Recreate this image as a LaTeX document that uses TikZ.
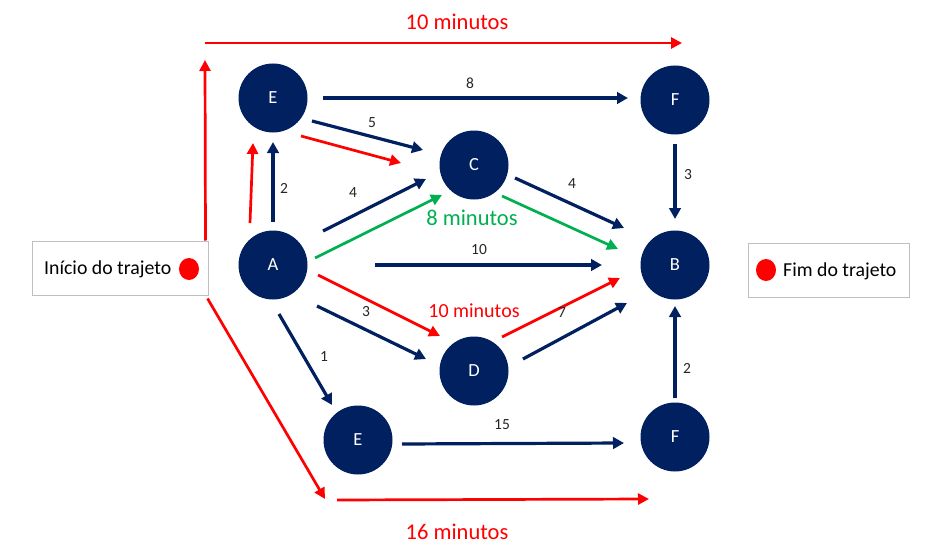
\documentclass[tikz,border=0pt]{standalone}
\usepackage{fontspec}
\setmainfont{Carlito}
\usetikzlibrary{arrows.meta,calc}
\definecolor{navy}{HTML}{002060}
\definecolor{rd}{HTML}{FF0000}
\definecolor{gr}{HTML}{00B050}
\definecolor{boxgray}{HTML}{BFBFBF}
\begin{document}
\begin{tikzpicture}[x=1pt,y=-1pt,
  vert/.style={circle,fill=navy,minimum size=69pt,inner sep=0pt,text=white,font=\fontsize{18.5}{22}\selectfont},
  navyarr/.style={draw=navy,line width=3.2pt,-{Triangle[length=11pt,width=11.5pt]}},
  redarr/.style={draw=rd,line width=2.7pt,-{Triangle[length=11pt,width=11pt]}},
  greenarr/.style={draw=gr,line width=2.7pt,-{Triangle[length=11pt,width=11pt]}},
  lbl/.style={font=\fontsize{15.5}{18}\selectfont,text=black!85,inner sep=0pt},
  biglbl/.style={font=\fontsize{22.5}{26}\selectfont,inner sep=0pt},
  midlbl/.style={font=\fontsize{20}{24}\selectfont,inner sep=0pt},
  infobox/.style={draw=boxgray,line width=1pt,fill=white,inner sep=0pt},
  boxtext/.style={font=\fontsize{19.8}{24}\selectfont,inner sep=0pt,anchor=west}
]
\fill[white] (0,0) rectangle (927,551);
\useasboundingbox (0,0) rectangle (927,551);

% vertices
\node[vert] (Et) at (273,98) {E};
\node[vert] (Ft) at (675,100) {F};
\node[vert] (C)  at (474,165) {C};
\node[vert] (A)  at (273,265) {A};
\node[vert] (B)  at (675,265) {B};
\node[vert] (D)  at (474,371) {D};
\node[vert] (Eb) at (358,440) {E};
\node[vert] (Fb) at (675,437) {F};

% boxes
\node[infobox,minimum width=176pt,minimum height=54pt] (ini) at (120,268) {};
\node[boxtext] (initxt) at (44,269) {Início do trajeto};
\fill[rd] (189,269) ellipse [x radius=10pt, y radius=11pt];
\node[infobox,minimum width=161pt,minimum height=54pt] (fim) at (828.5,270) {};
\fill[rd] (766,270) ellipse [x radius=10pt, y radius=11pt];
\node[boxtext] (fimtxt) at (783,271) {Fim do trajeto};

% navy arrows
\draw[navyarr] ($(Et)+(50,0)$) -- ($(Ft)+(-47,-2)$);
\draw[navyarr] ($(Et)+(39,23)$) -- ($(C)+(-51,-15)$);
\draw[navyarr] ($(A)+(0,-43)$) -- ($(Et)+(0,44)$);
\draw[navyarr] ($(A)+(50,-34)$) -- ($(C)+(-48,14)$);
\draw[navyarr] ($(C)+(41,13)$) -- ($(B)+(-51,-37)$);
\draw[navyarr] ($(Ft)+(0,44)$) -- ($(B)+(0,-46)$);
\draw[navyarr] ($(A)+(102,0)$) -- ($(B)+(-73,0)$);
\draw[navyarr] ($(A)+(44,41)$) -- ($(D)+(-48,-12)$);
\draw[navyarr] ($(A)+(6,49)$) -- ($(Eb)+(-26,-35)$);
\draw[navyarr] ($(D)+(49,-12)$) -- ($(B)+(-48,38)$);
\draw[navyarr] ($(Eb)+(44,4)$) -- ($(Fb)+(-51,6)$);
\draw[navyarr] ($(Fb)+(0,-39)$) -- ($(B)+(0,41)$);

% red / green path arrows
\draw[redarr] ($(Et)+(28,38)$) -- ($(C)+(-73,-2)$);
\draw[redarr] ($(A)+(-23,-42)$) -- ($(Et)+(-20,45)$);
\draw[greenarr] ($(A)+(42,-7)$) -- ($(C)+(-32,30)$);
\draw[greenarr] ($(C)+(28,31)$) -- ($(B)+(-57,-16)$);
\draw[redarr] ($(A)+(45,10)$) -- ($(D)+(-34,-35)$);
\draw[redarr] ($(D)+(28,-34)$) -- ($(B)+(-55,13)$);

% outer red routes
\coordinate (upTip) at (205,60);
\coordinate (topStart) at (205,43);
\coordinate (topEnd) at (682,43);
\coordinate (diagTip) at (325,499);
\coordinate (botStart) at (337,500);
\coordinate (botEnd) at (649,499);
\draw[redarr] ($(ini.north east)+(-3,0)$) -- (upTip);
\draw[redarr] (topStart) -- (topEnd);
\draw[redarr] ($(ini.south east)+(-1,3)$) -- (diagTip);
\draw[redarr] (botStart) -- (botEnd);

% weight labels
\node[lbl] (l8)  at (470,83)  {8};
\node[lbl] (l5)  at (372,123) {5};
\node[lbl] (l2a) at (284,188) {2};
\node[lbl] (l4a) at (353,193) {4};
\node[lbl] (l4b) at (572,184) {4};
\node[lbl] (l3a) at (688,175) {3};
\node[lbl] (l10) at (479,250) {10};
\node[lbl] (l3b) at (366,312) {3};
\node[lbl] (l1)  at (324,357) {1};
\node[lbl] (l7)  at (562,313) {7};
\node[lbl] (l15) at (502,425) {15};
\node[lbl] (l2b) at (687,368) {2};

% time labels
\node[biglbl,text=rd] (ttop) at (457,22) {10 minutos};
\node[biglbl,text=rd] (tbot) at (457,532) {16 minutos};
\node[biglbl,text=gr] (tgreen) at (472,218) {8 minutos};
\node[midlbl,text=rd] (tmid) at (474,311) {10 minutos};
\end{tikzpicture}
\end{document}
